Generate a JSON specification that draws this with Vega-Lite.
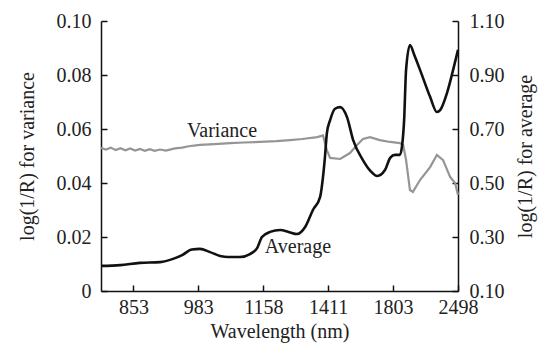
{
  "$schema": "https://vega.github.io/schema/vega-lite/v6.json",
  "width": 357,
  "height": 270,
  "autosize": {"type": "none"},
  "padding": {"left": 101, "top": 21, "right": 82, "bottom": 58},
  "background": "white",
  "config": {
    "view": {"stroke": null},
    "font": "Liberation Serif",
    "axis": {
      "labelFont": "Liberation Serif",
      "titleFont": "Liberation Serif",
      "labelFontSize": 20,
      "titleFontSize": 20,
      "titleFontWeight": "normal",
      "labelColor": "#222",
      "titleColor": "#222",
      "domainColor": "#111",
      "domainWidth": 1.5,
      "tickColor": "#111",
      "tickWidth": 1.5,
      "grid": false
    }
  },
  "datasets": {
    "average": [
      {"x": 0, "a": 0.193}, {"x": 5.9, "a": 0.196}, {"x": 12.0, "a": 0.204}, {"x": 18.2, "a": 0.207},
      {"x": 22.2, "a": 0.219}, {"x": 25.0, "a": 0.233}, {"x": 28.0, "a": 0.254}, {"x": 30.5, "a": 0.256},
      {"x": 33.6, "a": 0.244}, {"x": 36.7, "a": 0.230}, {"x": 39.1, "a": 0.226}, {"x": 42.8, "a": 0.226},
      {"x": 45.9, "a": 0.237}, {"x": 48.1, "a": 0.259}, {"x": 49.6, "a": 0.300}, {"x": 52.1, "a": 0.319},
      {"x": 55.2, "a": 0.326}, {"x": 58.0, "a": 0.318}, {"x": 60.4, "a": 0.311}, {"x": 62.9, "a": 0.337},
      {"x": 65.3, "a": 0.400}, {"x": 67.5, "a": 0.448}, {"x": 68.4, "a": 0.522}, {"x": 69.0, "a": 0.596},
      {"x": 69.6, "a": 0.685}, {"x": 70.6, "a": 0.733}, {"x": 72.1, "a": 0.775}, {"x": 73.7, "a": 0.781},
      {"x": 75.8, "a": 0.744}, {"x": 77.7, "a": 0.659}, {"x": 80.7, "a": 0.585}, {"x": 83.0, "a": 0.545},
      {"x": 85.1, "a": 0.526}, {"x": 87.5, "a": 0.548}, {"x": 89.1, "a": 0.593}, {"x": 90.6, "a": 0.604},
      {"x": 92.1, "a": 0.604}, {"x": 92.8, "a": 0.641}, {"x": 93.4, "a": 0.733}, {"x": 94.0, "a": 0.919},
      {"x": 95.2, "a": 1.011}, {"x": 96.5, "a": 0.975}, {"x": 98.3, "a": 0.919}, {"x": 101.4, "a": 0.819},
      {"x": 103.5, "a": 0.763}, {"x": 104.5, "a": 0.770}, {"x": 106.6, "a": 0.833}, {"x": 108.5, "a": 0.919},
      {"x": 110, "a": 0.993}
    ],
    "variance": [
      {"x": 0, "v": 0.0530}, {"x": 1.5, "v": 0.0524}, {"x": 3, "v": 0.0531}, {"x": 4.5, "v": 0.0522},
      {"x": 6, "v": 0.0529}, {"x": 7.5, "v": 0.0521}, {"x": 9, "v": 0.0528}, {"x": 10.5, "v": 0.0520},
      {"x": 12, "v": 0.0526}, {"x": 13.5, "v": 0.0519}, {"x": 15, "v": 0.0525}, {"x": 16.5, "v": 0.0519},
      {"x": 18.2, "v": 0.0524}, {"x": 20, "v": 0.0520}, {"x": 22.8, "v": 0.0528}, {"x": 25, "v": 0.0531},
      {"x": 27, "v": 0.0536}, {"x": 30.5, "v": 0.0541}, {"x": 35, "v": 0.0544}, {"x": 39.8, "v": 0.0548},
      {"x": 44, "v": 0.0550}, {"x": 49.0, "v": 0.0552}, {"x": 54, "v": 0.0555}, {"x": 58.2, "v": 0.0559},
      {"x": 62, "v": 0.0563}, {"x": 66.6, "v": 0.0570}, {"x": 68.4, "v": 0.0576}, {"x": 69.6, "v": 0.0522},
      {"x": 70.6, "v": 0.0493}, {"x": 73.7, "v": 0.0489}, {"x": 76.7, "v": 0.0511}, {"x": 78.9, "v": 0.0541},
      {"x": 80.7, "v": 0.0563}, {"x": 82.9, "v": 0.0570}, {"x": 85.9, "v": 0.0559}, {"x": 89.1, "v": 0.0552},
      {"x": 92.1, "v": 0.0548}, {"x": 93.1, "v": 0.0541}, {"x": 94.0, "v": 0.0485}, {"x": 95.2, "v": 0.0374},
      {"x": 96.1, "v": 0.0367}, {"x": 98.3, "v": 0.0411}, {"x": 101.4, "v": 0.0459}, {"x": 103.5, "v": 0.0504},
      {"x": 105.4, "v": 0.0485}, {"x": 107.6, "v": 0.0422}, {"x": 109.1, "v": 0.0400}, {"x": 110, "v": 0.0356}
    ],
    "labels": [
      {"x": 37.3, "v": 0.0593, "text": "Variance"},
      {"x": 60.7, "v": 0.0163, "text": "Average"}
    ]
  },
  "encoding": {
    "x": {
      "field": "x",
      "type": "quantitative",
      "scale": {"domain": [0, 110], "nice": false, "zero": false},
      "axis": {
        "title": "Wavelength (nm)",
        "values": [10, 30, 50, 70, 90, 110],
        "labelExpr": "['853','983','1158','1411','1803','2498'][round((datum.value-10)/20)]",
        "tickSize": -6,
        "labelPadding": 12,
        "titlePadding": 4,
        "labelFlush": false
      }
    }
  },
  "layer": [
    {
      "data": {"name": "variance"},
      "mark": {"type": "line", "color": "#959595", "strokeWidth": 2.2},
      "encoding": {
        "y": {
          "field": "v",
          "type": "quantitative",
          "scale": {"domain": [0, 0.1], "nice": false},
          "axis": {
            "orient": "left",
            "title": "log(1/R) for variance",
            "values": [0, 0.02, 0.04, 0.06, 0.08, 0.1],
            "labelExpr": "datum.value == 0 ? '0' : format(datum.value, '.2f')",
            "tickSize": -6,
            "labelPadding": 16,
            "titlePadding": 19,
            "labelFlush": false
          }
        }
      }
    },
    {
      "data": {"name": "average"},
      "mark": {"type": "line", "color": "#111", "strokeWidth": 2.6, "interpolate": "monotone"},
      "encoding": {
        "y": {
          "field": "a",
          "type": "quantitative",
          "scale": {"domain": [0.1, 1.1], "nice": false, "zero": false},
          "axis": {
            "orient": "right",
            "title": "log(1/R) for average",
            "titleAngle": 270,
            "titleBaseline": "bottom",
            "values": [0.1, 0.3, 0.5, 0.7, 0.9, 1.1],
            "format": ".2f",
            "tickSize": -6,
            "labelPadding": 17,
            "titlePadding": 31,
            "labelFlush": false
          }
        }
      }
    },
    {
      "data": {"name": "labels"},
      "mark": {"type": "text", "font": "Liberation Serif", "fontSize": 20, "color": "#222", "align": "center", "baseline": "middle"},
      "encoding": {
        "y": {"field": "v", "type": "quantitative", "scale": {"domain": [0, 0.1], "nice": false}, "axis": null},
        "text": {"field": "text"}
      }
    }
  ],
  "resolve": {"scale": {"y": "independent"}}
}
